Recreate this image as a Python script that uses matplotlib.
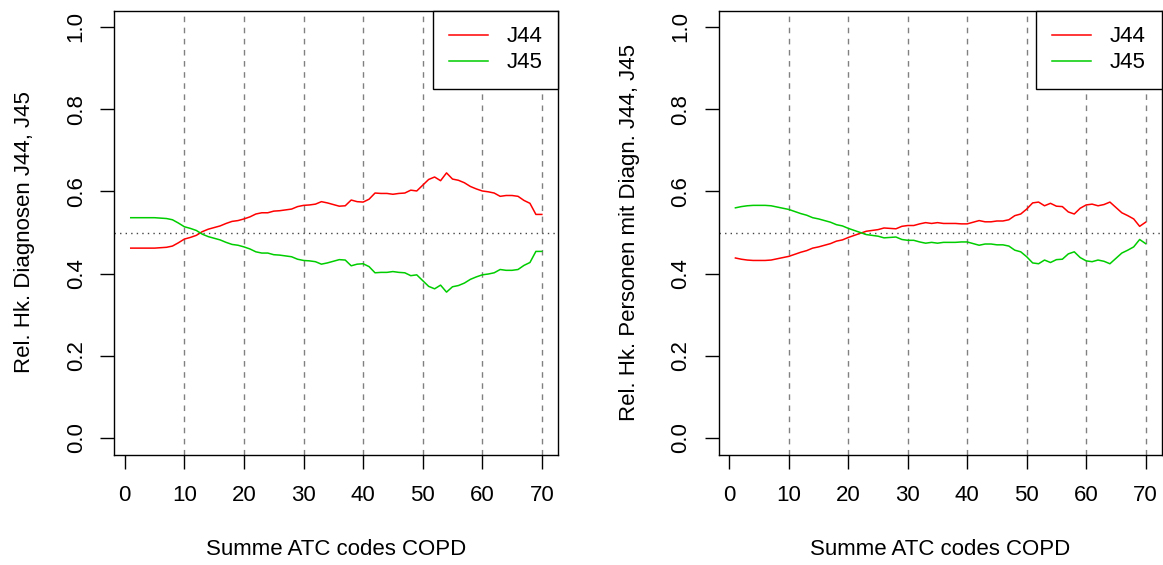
import matplotlib
matplotlib.use("Agg")
import matplotlib.pyplot as plt
import numpy as np

plt.rcParams['font.family'] = ['Liberation Sans', 'DejaVu Sans']

# number of ATC codes (x) for both panels
atc = list(range(1, 71))

# left panel: relative frequency of diagnoses
diag_j44 = [0.462, 0.462, 0.462, 0.462, 0.462, 0.463, 0.464, 0.467, 0.475, 0.484,
            0.488, 0.493, 0.502, 0.508, 0.512, 0.516, 0.522, 0.527, 0.529, 0.533,
            0.538, 0.545, 0.548, 0.548, 0.552, 0.553, 0.555, 0.557, 0.563, 0.566,
            0.567, 0.569, 0.575, 0.572, 0.568, 0.564, 0.565, 0.579, 0.575, 0.574,
            0.581, 0.596, 0.595, 0.595, 0.593, 0.595, 0.596, 0.603, 0.601, 0.615,
            0.629, 0.635, 0.626, 0.645, 0.630, 0.627, 0.621, 0.612, 0.606, 0.601,
            0.599, 0.596, 0.588, 0.590, 0.590, 0.588, 0.578, 0.571, 0.544, 0.544]
diag_j45 = [0.536, 0.536, 0.536, 0.536, 0.536, 0.535, 0.534, 0.531, 0.523, 0.514,
            0.510, 0.505, 0.496, 0.490, 0.486, 0.482, 0.476, 0.471, 0.469, 0.465,
            0.460, 0.453, 0.450, 0.450, 0.446, 0.445, 0.443, 0.441, 0.435, 0.432,
            0.431, 0.429, 0.423, 0.426, 0.430, 0.434, 0.433, 0.419, 0.423, 0.424,
            0.417, 0.402, 0.403, 0.403, 0.405, 0.403, 0.402, 0.395, 0.397, 0.383,
            0.369, 0.363, 0.372, 0.355, 0.368, 0.371, 0.377, 0.386, 0.392, 0.397,
            0.399, 0.402, 0.410, 0.408, 0.408, 0.410, 0.420, 0.427, 0.454, 0.454]

# right panel: relative frequency of persons with diagnosis
pers_j44 = [0.438, 0.435, 0.433, 0.432, 0.432, 0.432, 0.433, 0.436, 0.439, 0.442,
            0.447, 0.452, 0.456, 0.462, 0.465, 0.469, 0.473, 0.479, 0.482, 0.488,
            0.493, 0.498, 0.503, 0.505, 0.507, 0.511, 0.510, 0.509, 0.515, 0.517,
            0.517, 0.521, 0.524, 0.522, 0.524, 0.522, 0.522, 0.522, 0.521, 0.521,
            0.525, 0.529, 0.526, 0.526, 0.528, 0.528, 0.531, 0.541, 0.545, 0.557,
            0.572, 0.574, 0.565, 0.571, 0.564, 0.563, 0.550, 0.545, 0.559, 0.567,
            0.569, 0.565, 0.568, 0.574, 0.561, 0.548, 0.541, 0.533, 0.515, 0.525]
pers_j45 = [0.560, 0.563, 0.565, 0.566, 0.566, 0.566, 0.565, 0.562, 0.559, 0.556,
            0.551, 0.546, 0.542, 0.536, 0.533, 0.529, 0.525, 0.519, 0.516, 0.510,
            0.505, 0.500, 0.495, 0.493, 0.491, 0.487, 0.488, 0.489, 0.483, 0.481,
            0.481, 0.477, 0.474, 0.476, 0.474, 0.476, 0.476, 0.476, 0.477, 0.477,
            0.473, 0.469, 0.472, 0.472, 0.470, 0.470, 0.467, 0.457, 0.453, 0.441,
            0.426, 0.424, 0.433, 0.427, 0.434, 0.435, 0.448, 0.453, 0.439, 0.431,
            0.429, 0.433, 0.430, 0.424, 0.437, 0.450, 0.457, 0.465, 0.483, 0.473]

x_ticks = [0, 10, 20, 30, 40, 50, 60, 70]
y_ticks = [0.0, 0.2, 0.4, 0.6, 0.8, 1.0]
grid_x = [10, 20, 30, 40, 50, 60, 70]

FS = 16
RED = '#FF0000'
GREEN = '#00CD00'


def panel(ax, j44, j45, ylabel):
    for gx in grid_x:
        ax.axvline(gx, color='#808080', lw=1.0, ls=(0, (4, 4)), zorder=1)
    ax.axhline(0.5, color='#444444', lw=1.0, ls=(0, (1, 3)), zorder=1)
    ax.plot(atc, j44, color=RED, lw=1.1, label='J44', zorder=3)
    ax.plot(atc, j45, color=GREEN, lw=1.1, label='J45', zorder=3)

    ax.set_xlim(-1.76, 72.76)
    ax.set_ylim(-0.04, 1.04)
    ax.set_xticks(x_ticks)
    ax.set_xticklabels([str(t) for t in x_ticks])
    ax.set_yticks(y_ticks)
    ax.set_yticklabels(['%.1f' % t for t in y_ticks])
    ax.tick_params(axis='both', direction='out', length=9.9, width=1.0,
                   labelsize=FS, color='black')
    ax.tick_params(axis='x', pad=12)
    ax.tick_params(axis='y', pad=10, labelrotation=90)
    for lab in ax.get_yticklabels():
        lab.set_va('center')
    for s in ax.spines.values():
        s.set_linewidth(1.0)
        s.set_color('black')

    ax.set_xlabel('Summe ATC codes COPD', fontsize=FS, labelpad=24)
    ax.set_ylabel(ylabel, fontsize=FS, labelpad=22)

    leg = ax.legend(loc='upper right', fontsize=FS, frameon=True, fancybox=False,
                    edgecolor='black', framealpha=1, borderaxespad=0,
                    handlelength=1.75, handletextpad=0.85, borderpad=0.72,
                    labelspacing=0.22)
    leg.get_frame().set_linewidth(1.0)


fig = plt.figure(figsize=(11.63, 5.65), dpi=100)
ax1 = fig.add_axes([114.3 / 1163, (565 - 454.5) / 565, 444 / 1163, 444 / 565])
ax2 = fig.add_axes([719 / 1163, (565 - 454.5) / 565, 443 / 1163, 444 / 565])

panel(ax1, diag_j44, diag_j45, 'Rel. Hk. Diagnosen J44, J45')
panel(ax2, pers_j44, pers_j45, 'Rel. Hk. Personen mit Diagn. J44, J45')

fig.savefig('out.png', dpi=100)
